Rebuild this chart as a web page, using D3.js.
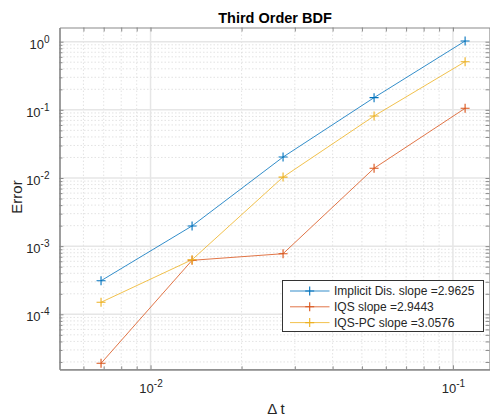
<!DOCTYPE html>
<html>
<head>
<meta charset="utf-8">
<script src="https://cdn.jsdelivr.net/npm/d3@7"></script>
<style>
  html, body { margin: 0; padding: 0; background: #fff; }
  svg { display: block; font-family: "Liberation Sans", Arial, Helvetica, sans-serif; }
</style>
</head>
<body>
<svg id="chart" width="490" height="419"></svg>
<script>
// Time step sizes (halved each refinement)
const dt = [0.00686, 0.01372, 0.02743, 0.05485, 0.1097];
// Error per method at each time step
const implicitErr = [3.11e-4, 1.98e-3, 2.03e-2, 0.151, 1.024];
const iqsErr = [1.91e-5, 6.20e-4, 7.75e-4, 1.39e-2, 0.1054];
const iqspcErr = [1.50e-4, 6.33e-4, 1.03e-2, 0.0812, 0.509];
const seriesNames = ["Implicit Dis. slope =2.9625", "IQS slope =2.9443", "IQS-PC slope =3.0576"];
const seriesColors = ["#0072BD", "#D95319", "#EDB120"];
// Axis ranges and tick values
const xDomain = [0.005, 0.1326];
const yDomain = [1.56e-5, 1.615];
const xMajor = [1e-2, 1e-1];
const xMajorExp = ["-2", "-1"];
const yMajor = [1e-4, 1e-3, 1e-2, 1e-1, 1e0];
const yMajorExp = ["-4", "-3", "-2", "-1", "0"];
const titleText = "Third Order BDF";
const xLabel = "\u0394 t";
const yLabel = "Error";

const svg = d3.select("#chart");
const L = 59.5, R = 489.5, T = 27.5, B = 369.3;

const x = d3.scaleLog().domain(xDomain).range([L, 490]);
const y = d3.scaleLog().domain(yDomain).range([B, T]);

// minor tick positions: 2..9 times each decade, inside the domain
function minors(domain) {
  const out = [];
  const lo = Math.floor(Math.log10(domain[0])), hi = Math.ceil(Math.log10(domain[1]));
  for (let e = lo; e <= hi; e++) {
    for (let m = 2; m <= 9; m++) {
      const v = m * Math.pow(10, e);
      if (v > domain[0] * 1.0001 && v < domain[1] * 0.9999) out.push(v);
    }
  }
  return out;
}
const xMinor = minors(xDomain);
const yMinor = minors(yDomain);

// plot background
svg.append("rect").attr("x", L).attr("y", T).attr("width", R - L).attr("height", B - T).attr("fill", "#fff");

// grid
const grid = svg.append("g");
grid.selectAll(".xmin").data(xMinor).join("line")
  .attr("x1", d => x(d)).attr("x2", d => x(d)).attr("y1", T).attr("y2", B)
  .attr("stroke", "#dcdcdc").attr("stroke-width", 0.8).attr("stroke-dasharray", "1.5,2");
grid.selectAll(".ymin").data(yMinor).join("line")
  .attr("y1", d => y(d)).attr("y2", d => y(d)).attr("x1", L).attr("x2", R)
  .attr("stroke", "#dcdcdc").attr("stroke-width", 0.8).attr("stroke-dasharray", "1.5,2");
grid.selectAll(".xmaj").data(xMajor).join("line")
  .attr("x1", d => x(d)).attr("x2", d => x(d)).attr("y1", T).attr("y2", B)
  .attr("stroke", "#e6e6e6").attr("stroke-width", 1.5);
grid.selectAll(".ymaj").data(yMajor).join("line")
  .attr("y1", d => y(d)).attr("y2", d => y(d)).attr("x1", L).attr("x2", R)
  .attr("stroke", "#e6e6e6").attr("stroke-width", 1.5);

// axes
const axisColor = "#8a8a8a";
function styleAxis(g) {
  g.selectAll("path.domain").attr("stroke", axisColor).attr("stroke-width", 1.2);
  g.selectAll(".tick line").attr("stroke", axisColor).attr("stroke-width", 1);
}
function supLabels(g, exps) {
  g.selectAll(".tick text").each(function(d, i) {
    const t = d3.select(this);
    t.text("");
    t.append("tspan").text("10");
    t.append("tspan").attr("dy", -6).attr("font-size", 10).text(exps[i]);
  });
  g.selectAll(".tick text").attr("fill", "#262626").attr("font-size", 13);
}

const gx = svg.append("g").attr("transform", `translate(0,${B})`)
  .call(d3.axisBottom(x).tickValues(xMajor).tickFormat(() => "10").tickSizeInner(-4).tickSizeOuter(0).tickPadding(14.5));
supLabels(gx, xMajorExp);
styleAxis(gx);
const gxm = svg.append("g").attr("transform", `translate(0,${B})`)
  .call(d3.axisBottom(x).tickValues(xMinor).tickFormat("").tickSizeInner(-3).tickSizeOuter(0));
styleAxis(gxm);

const gy = svg.append("g").attr("transform", `translate(${L},0)`)
  .call(d3.axisLeft(y).tickValues(yMajor).tickFormat(() => "10").tickSizeInner(-4).tickSizeOuter(0).tickPadding(10));
supLabels(gy, yMajorExp);
gy.selectAll(".tick text").attr("dy", "0.5em");
styleAxis(gy);
const gym = svg.append("g").attr("transform", `translate(${L},0)`)
  .call(d3.axisLeft(y).tickValues(yMinor).tickFormat("").tickSizeInner(-3).tickSizeOuter(0));
styleAxis(gym);

const gt = svg.append("g").attr("transform", `translate(0,${T})`)
  .call(d3.axisTop(x).tickValues(xMajor.concat(xMinor)).tickFormat("").tickSizeInner(-4).tickSizeOuter(0));
styleAxis(gt);
const gr = svg.append("g").attr("transform", `translate(${R},0)`)
  .call(d3.axisRight(y).tickValues(yMajor.concat(yMinor)).tickFormat("").tickSizeInner(-4).tickSizeOuter(0));
styleAxis(gr);

// data series
const series = [implicitErr, iqsErr, iqspcErr].map((errs, i) => ({
  name: seriesNames[i], color: seriesColors[i],
  pts: errs.map((e, j) => ({ dt: dt[j], err: e }))
}));
const line = d3.line().x(d => x(d.dt)).y(d => y(d.err));
const plusPath = "M-4.5,0H4.5M0,-4.5V4.5";
series.forEach(s => {
  const g = svg.append("g");
  g.append("path").attr("d", line(s.pts)).attr("fill", "none")
    .attr("stroke", s.color).attr("stroke-width", 1).attr("stroke-opacity", 0.8);
  g.selectAll("path.m").data(s.pts).join("path").attr("class", "m")
    .attr("transform", d => `translate(${x(d.dt)},${y(d.err)})`)
    .attr("d", plusPath).attr("stroke", s.color).attr("stroke-width", 1.1).attr("fill", "none");
});

// title and axis labels
svg.append("text").attr("x", 275).attr("y", 22.5).attr("text-anchor", "middle")
  .attr("font-weight", "bold").attr("font-size", 14.5).attr("fill", "#000").text(titleText);
svg.append("text").attr("x", 276).attr("y", 414).attr("text-anchor", "middle")
  .attr("font-size", 15).attr("fill", "#262626").text(xLabel);
svg.append("text").attr("transform", "translate(21.5,197) rotate(-90)").attr("text-anchor", "middle")
  .attr("font-size", 15).attr("fill", "#262626").text(yLabel);

// legend
const lg = svg.append("g");
lg.append("rect").attr("x", 282.5).attr("y", 280.5).attr("width", 201).attr("height", 51)
  .attr("fill", "#fff").attr("stroke", "#333").attr("stroke-width", 1);
series.forEach((s, i) => {
  const cy = 291 + i * 15.8;
  lg.append("line").attr("x1", 290).attr("x2", 329.5).attr("y1", cy).attr("y2", cy)
    .attr("stroke", s.color).attr("stroke-width", 1).attr("stroke-opacity", 0.8);
  lg.append("path").attr("transform", `translate(309.7,${cy})`).attr("d", plusPath)
    .attr("stroke", s.color).attr("stroke-width", 1.1).attr("fill", "none");
  lg.append("text").attr("x", 334).attr("y", cy + 4.3).attr("font-size", 12)
    .attr("fill", "#262626").text(s.name);
});
</script>
</body>
</html>
